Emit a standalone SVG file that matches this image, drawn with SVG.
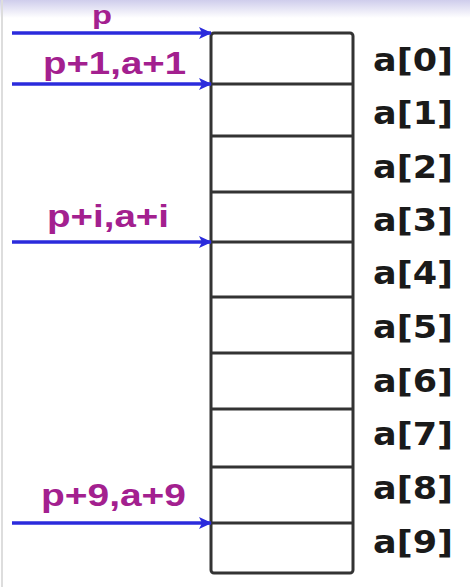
<svg xmlns="http://www.w3.org/2000/svg" width="470" height="587" viewBox="0 0 470 587">
  <defs>
    <linearGradient id="topband" x1="0" y1="0" x2="0" y2="1">
      <stop offset="0" stop-color="#cfcdec"/>
      <stop offset="1" stop-color="#ffffff"/>
    </linearGradient>
    <marker id="arrow" viewBox="0 0 13 12" refX="12" refY="6" markerWidth="13" markerHeight="12" markerUnits="userSpaceOnUse" orient="auto">
      <path d="M0,0 L13,6 L0,12 L3,6 Z" fill="#2b2bdc"/>
    </marker>
  </defs>
  <style>
    .ptr { font-family: "Liberation Sans", Arial, sans-serif; font-weight: bold; font-size: 31px; fill: #a3208f; }
    .idx { font-family: "DejaVu Sans", Verdana, sans-serif; font-weight: bold; font-size: 32px; fill: #1a1a1a; }
    .arr { stroke: #2b2bdc; stroke-width: 3.5; fill: none; marker-end: url(#arrow); }
    .cell { stroke: #333333; stroke-width: 3; fill: #ffffff; }
    .div { stroke: #333333; stroke-width: 3; }
  </style>
  <rect width="470" height="587" fill="#ffffff"/>
  <rect width="470" height="18" fill="url(#topband)"/>
  <line x1="2" y1="0" x2="2" y2="587" stroke="#dddddd" stroke-width="2"/>

  <g id="array">
    <rect class="cell" x="211" y="33" width="142" height="540" rx="3"/>
    <line class="div" x1="211" y1="84" x2="353" y2="84"/>
    <line class="div" x1="211" y1="136" x2="353" y2="136"/>
    <line class="div" x1="211" y1="192" x2="353" y2="192"/>
    <line class="div" x1="211" y1="242" x2="353" y2="242"/>
    <line class="div" x1="211" y1="297" x2="353" y2="297"/>
    <line class="div" x1="211" y1="353" x2="353" y2="353"/>
    <line class="div" x1="211" y1="409" x2="353" y2="409"/>
    <line class="div" x1="211" y1="467" x2="353" y2="467"/>
    <line class="div" x1="211" y1="523" x2="353" y2="523"/>
  </g>

  <g id="labels">
    <text class="idx" x="373" y="71" textLength="80" lengthAdjust="spacingAndGlyphs">a[0]</text>
    <text class="idx" x="373" y="124" textLength="80" lengthAdjust="spacingAndGlyphs">a[1]</text>
    <text class="idx" x="373" y="178" textLength="80" lengthAdjust="spacingAndGlyphs">a[2]</text>
    <text class="idx" x="373" y="231" textLength="80" lengthAdjust="spacingAndGlyphs">a[3]</text>
    <text class="idx" x="373" y="284" textLength="80" lengthAdjust="spacingAndGlyphs">a[4]</text>
    <text class="idx" x="373" y="338" textLength="80" lengthAdjust="spacingAndGlyphs">a[5]</text>
    <text class="idx" x="373" y="392" textLength="80" lengthAdjust="spacingAndGlyphs">a[6]</text>
    <text class="idx" x="373" y="445" textLength="80" lengthAdjust="spacingAndGlyphs">a[7]</text>
    <text class="idx" x="373" y="499" textLength="80" lengthAdjust="spacingAndGlyphs">a[8]</text>
    <text class="idx" x="373" y="553" textLength="80" lengthAdjust="spacingAndGlyphs">a[9]</text>
  </g>

  <g id="connectors">
    <line class="arr" x1="12" y1="33" x2="211" y2="33"/>
    <line class="arr" x1="12" y1="84" x2="211" y2="84"/>
    <line class="arr" x1="12" y1="242" x2="211" y2="242"/>
    <line class="arr" x1="12" y1="523" x2="211" y2="523"/>
  </g>

  <g id="pointers">
    <text class="ptr" x="102" y="24" text-anchor="middle" textLength="20" lengthAdjust="spacingAndGlyphs" style="font-size:26px">p</text>
    <text class="ptr" x="43" y="74" textLength="143" lengthAdjust="spacingAndGlyphs">p+1,a+1</text>
    <text class="ptr" x="47" y="227" textLength="122" lengthAdjust="spacingAndGlyphs">p+i,a+i</text>
    <text class="ptr" x="41" y="506" textLength="145" lengthAdjust="spacingAndGlyphs">p+9,a+9</text>
  </g>
</svg>
